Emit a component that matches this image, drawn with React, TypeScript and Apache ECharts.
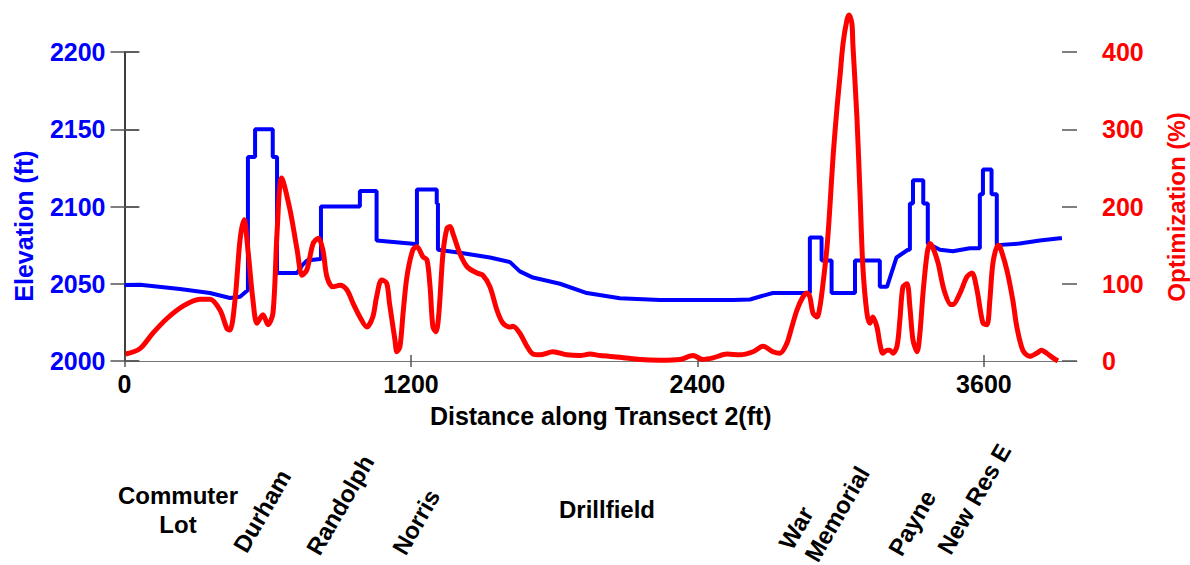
import React, { useEffect, useRef } from "react";
import * as echarts from "echarts";

const FONT = '"Liberation Sans", Arial, Helvetica, sans-serif';

// X tick labels (ft)
const distanceTicks = [0, 1200, 2400, 3600];

// Elevation profile (blue), distance in ft
const elevDistance = [
  0, 65, 232, 358, 442, 484, 517,
  517, 547, 547, 621, 621, 639, 639, 723, 745, 764, 819,
  823, 823, 986, 986, 1056, 1056, 1196, 1225, 1225, 1308, 1308, 1313, 1313, 1405, 1531, 1615, 1656, 1711, 1824, 1937, 2075, 2243, 2411, 2549, 2620, 2691, 2716, 2829, 2871,
  2871, 2920, 2920, 2962, 2962, 3060, 3060, 3164, 3164, 3194, 3234, 3282, 3290, 3290, 3303, 3303, 3346, 3346, 3365, 3365, 3416, 3470, 3541, 3583,
  3583, 3596, 3596, 3632, 3632, 3654, 3654, 3750, 3834, 3918, 3927,
];
const elevValue = [
  2049.2, 2049.3, 2046.6, 2044, 2040.8, 2041.6, 2046,
  2132, 2132, 2150, 2150, 2132, 2132, 2057, 2057, 2062, 2065, 2066,
  2066, 2100, 2100, 2110, 2110, 2078, 2076, 2075.5, 2111, 2111, 2102, 2102, 2072, 2070, 2067, 2064, 2058, 2054, 2050, 2044, 2040.6, 2039.5, 2039.5, 2039.5, 2039.8, 2043, 2044, 2044, 2044,
  2080, 2080, 2065, 2065, 2044, 2044, 2065, 2065, 2048, 2048, 2067, 2072, 2072, 2102, 2102, 2117, 2117, 2102, 2102, 2076, 2072, 2071, 2073, 2073,
  2108, 2108, 2124, 2124, 2108, 2108, 2075, 2076, 2078, 2079.4, 2079.5,
];

// Optimization (%) (red)
const optDistance = [
  5, 65, 119, 178, 245, 316, 358, 400, 429, 442, 463, 484, 501, 517, 538, 555, 580, 601, 622, 639, 658, 693, 723, 744, 764, 790, 812, 831, 848, 873, 903, 932, 957, 986, 1015, 1040, 1056, 1077, 1098, 1110, 1133, 1141, 1154, 1167, 1183, 1208, 1225, 1250, 1267, 1280, 1292, 1305, 1317, 1334, 1351, 1364, 1376, 1405, 1435, 1476, 1501, 1531, 1560, 1585, 1615, 1627, 1656, 1686, 1711, 1740, 1795, 1853, 1908, 1950, 1992, 2075, 2159, 2243, 2327, 2381, 2423, 2465, 2524, 2578, 2633, 2675, 2716, 2746, 2775, 2788, 2817, 2842, 2859, 2871, 2884, 2901, 2913, 2926, 2943, 2955, 2968, 2985, 2997, 3010, 3026, 3035, 3047, 3051, 3068, 3081, 3093, 3110, 3123, 3135, 3152, 3164, 3177, 3194, 3206, 3219, 3236, 3248, 3261, 3278, 3290, 3303, 3320, 3332, 3345, 3362, 3374, 3387, 3408, 3433, 3462, 3470, 3500, 3529, 3550, 3571, 3596, 3613, 3625, 3638, 3659, 3667, 3696, 3721, 3738, 3763, 3792, 3821, 3842, 3863, 3889, 3910,
];
const optValue = [
  9, 16, 36, 55, 71, 80, 80, 66, 42, 40, 79, 157, 183, 144, 79, 49, 60, 47, 62, 166, 237, 196, 144, 111, 118, 152, 159, 144, 109, 96, 98, 92, 75, 57, 44, 57, 83, 105, 101, 75, 27, 12, 19, 62, 109, 144, 148, 135, 131, 96, 44, 38, 62, 139, 172, 174, 165, 139, 122, 114, 111, 96, 66, 49, 44, 45, 36, 19, 9, 8, 12, 8, 7, 9, 7, 5, 2, 1, 2, 7, 2, 4, 9, 8, 12, 19, 12, 10, 23, 36, 66, 83, 88, 83, 62, 57, 70, 100, 148, 200, 264, 329, 368, 411, 441, 448, 437, 411, 316, 217, 122, 62, 49, 57, 44, 23, 10, 14, 14, 10, 19, 53, 96, 100, 70, 27, 12, 36, 88, 139, 152, 146, 127, 92, 73, 73, 88, 109, 114, 92, 49, 47, 79, 127, 150, 148, 118, 79, 44, 14, 6, 10, 14, 10, 4, 0,
];

// Location names under the chart
const locationNames = ["Commuter", "Lot", "Durham", "Randolph", "Norris", "Drillfield", "War", "Memorial", "Payne", "New Res E"];
// Layout of those names: [centerX, centerY, rotated?]
const locationLayout: [number, number, boolean][] = [
  [178, 495, false],
  [178, 524, false],
  [262, 511, true],
  [340, 505, true],
  [416, 522, true],
  [607, 509, false],
  [796, 528, true],
  [837, 514, true],
  [912, 523, true],
  [974, 499, true],
];

const X_MAX = 3990;

export default function App() {
  const ref = useRef<HTMLDivElement>(null);
  useEffect(() => {
    if (!ref.current) return;
    const chart = echarts.init(ref.current, null, { renderer: "svg" });
    const blueData = elevDistance.map((d, i) => [d, elevValue[i]]);
    const redData = optDistance.map((d, i) => [d, optValue[i]]);
    const labelStyle = { fontSize: 25, fontWeight: "bold" as const, fontFamily: FONT };
    const axisLineStyle = { color: "#333", width: 1.5 };
    const tickStyle = { color: "#555", width: 1.5 };
    const plain = (v: number) => String(v);

    const graphics: any[] = [
      {
        type: "text",
        x: 24,
        y: 226,
        rotation: Math.PI / 2,
        style: { text: "Elevation (ft)", fill: "#0000ff", ...labelStyle, align: "center", verticalAlign: "middle" },
      },
      {
        type: "text",
        x: 1176,
        y: 207,
        rotation: Math.PI / 2,
        style: { text: "Optimization (%)", fill: "#ff0000", fontSize: 24, fontWeight: "bold", fontFamily: FONT, align: "center", verticalAlign: "middle" },
      },
    ];
    locationNames.forEach((name, i) => {
      const [x, y, rot] = locationLayout[i];
      graphics.push({
        type: "text",
        x,
        y,
        rotation: rot ? Math.PI / 3 : 0,
        style: { text: name, fill: "#000", fontSize: 24, fontWeight: "bold", fontFamily: FONT, align: "center", verticalAlign: "middle" },
      });
    });

    chart.setOption({
      animation: false,
      backgroundColor: "#fff",
      grid: { left: 124.5, right: 113, top: 52, bottom: 204 },
      xAxis: [
        {
          type: "value",
          min: 0,
          max: X_MAX,
          interval: 1200,
          position: "bottom",
          name: "Distance along Transect 2(ft)",
          nameLocation: "middle",
          nameGap: 42,
          nameTextStyle: { color: "#000", ...labelStyle },
          axisLine: { show: true, lineStyle: { color: "#777", width: 1 } },
          axisTick: { show: true, customValues: distanceTicks, length: 6, lineStyle: tickStyle },
          axisLabel: { customValues: distanceTicks, margin: 10, color: "#000", formatter: plain, ...labelStyle },
          splitLine: { show: false },
        },
        {
          type: "value",
          min: 0,
          max: X_MAX,
          interval: 1200,
          position: "bottom",
          axisLine: { show: false },
          axisTick: { show: true, inside: true, customValues: distanceTicks, length: 6, lineStyle: tickStyle },
          axisLabel: { show: false },
          splitLine: { show: false },
        },
      ],
      yAxis: [
        {
          type: "value",
          min: 2000,
          max: 2200,
          interval: 50,
          position: "left",
          axisLine: { show: true, lineStyle: axisLineStyle },
          axisTick: { show: true, length: 14, lineStyle: tickStyle },
          axisLabel: { margin: 19, color: "#0000ff", formatter: plain, ...labelStyle },
          splitLine: { show: false },
        },
        {
          type: "value",
          min: 0,
          max: 400,
          interval: 100,
          position: "right",
          axisLine: { show: true, lineStyle: axisLineStyle },
          axisTick: { show: true, length: 15, lineStyle: tickStyle },
          axisLabel: { margin: 25, color: "#ff0000", formatter: plain, ...labelStyle },
          splitLine: { show: false },
        },
        {
          type: "value",
          min: 2000,
          max: 2200,
          interval: 50,
          position: "left",
          axisLine: { show: false },
          axisTick: { show: true, inside: true, length: 14, lineStyle: tickStyle },
          axisLabel: { show: false },
          splitLine: { show: false },
        },
        {
          type: "value",
          min: 0,
          max: 400,
          interval: 100,
          position: "right",
          axisLine: { show: false },
          axisTick: { show: true, inside: true, length: 15, lineStyle: tickStyle },
          axisLabel: { show: false },
          splitLine: { show: false },
        },
      ],
      series: [
        {
          name: "Elevation",
          type: "line",
          xAxisIndex: 0,
          yAxisIndex: 0,
          data: blueData,
          showSymbol: false,
          lineStyle: { color: "#0000ff", width: 4 },
          z: 2,
        },
        {
          name: "Optimization",
          type: "line",
          xAxisIndex: 0,
          yAxisIndex: 1,
          data: redData,
          smooth: 0.3,
          clip: false,
          showSymbol: false,
          lineStyle: { color: "#ff0000", width: 5 },
          z: 3,
        },
      ],
      graphic: graphics,
    });
    return () => chart.dispose();
  }, []);
  return <div ref={ref} style={{ position: "absolute", left: 0, top: 0, width: 1190, height: 565 }} />;
}
